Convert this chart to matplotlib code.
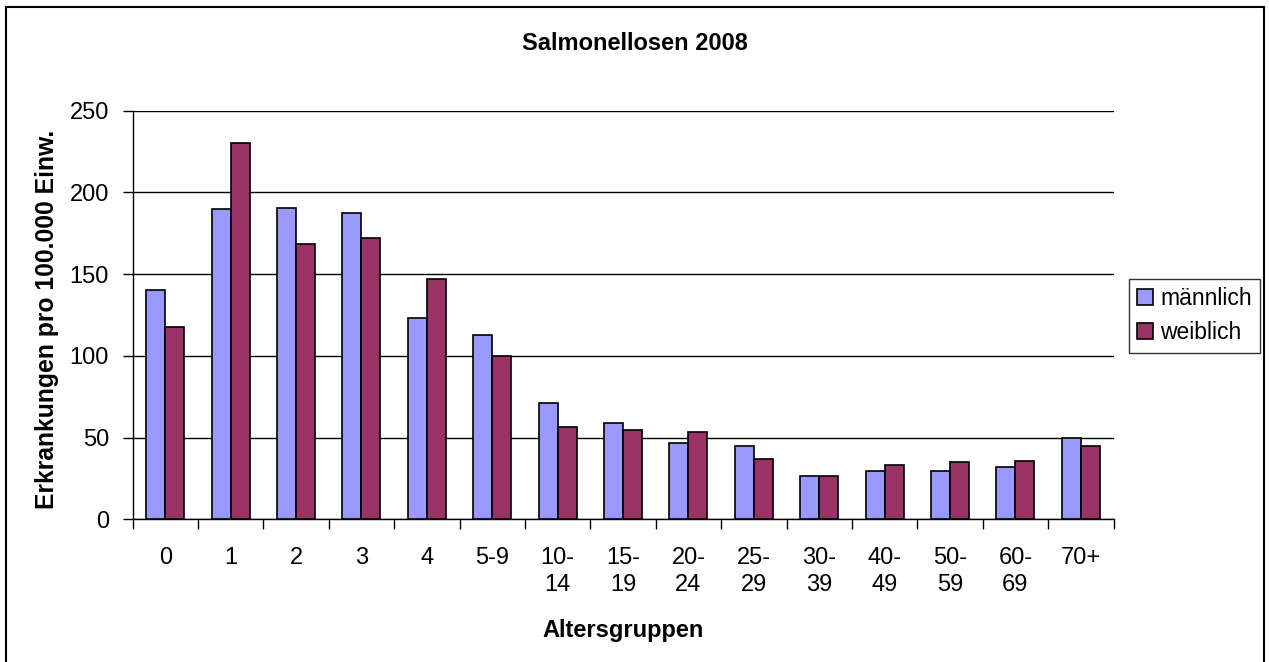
import numpy as np
import matplotlib
matplotlib.use('Agg')
import matplotlib.pyplot as plt
from matplotlib.lines import Line2D

plt.rcParams['font.family'] = ['Liberation Sans', 'DejaVu Sans']

# Altersgruppen und Inzidenzen (pro 100.000 Einw.)
gruppen = ['0', '1', '2', '3', '4', '5-9', '10-\n14', '15-\n19', '20-\n24', '25-\n29',
           '30-\n39', '40-\n49', '50-\n59', '60-\n69', '70+']
maennlich = [140.6, 189.8, 190.6, 187.7, 122.9, 112.7, 71.4, 59.2, 46.9, 45.1,
             26.7, 29.4, 29.4, 32.2, 49.8]
weiblich = [117.4, 230.3, 168.4, 172.2, 147.0, 99.9, 56.3, 54.5, 53.7, 36.9,
            26.7, 33.1, 34.9, 35.9, 45.1]

W, H = 1269, 662
fig = plt.figure(figsize=(W/100, H/100), dpi=100)
ax = fig.add_axes([132.5/W, 1-519.3/H, 981/W, (519.3-110.7)/H])

x = np.arange(len(gruppen))
bw = 0.29
ax.bar(x - bw/2, maennlich, bw, color='#9999FF', edgecolor='black', linewidth=1.2, label='männlich', zorder=3)
ax.bar(x + bw/2, weiblich, bw, color='#993366', edgecolor='black', linewidth=1.2, label='weiblich', zorder=3)

ax.set_xlim(-0.5, len(gruppen) - 0.5)
ax.set_ylim(0, 250)
ax.set_yticks(np.arange(0, 251, 50))
ax.yaxis.grid(True, color='black', linewidth=1)
ax.set_axisbelow(True)
for s in ['top', 'right']:
    ax.spines[s].set_visible(False)
ax.spines['left'].set_linewidth(1)
ax.spines['bottom'].set_linewidth(1)

ax.set_xticks(x)
ax.set_xticklabels(gruppen, fontsize=17, linespacing=1.3, va='top')
ax.set_xticks(np.arange(-0.5, len(gruppen)), minor=True)
ax.tick_params(axis='x', which='major', length=0, pad=20)
ax.tick_params(axis='x', which='minor', length=7, width=1, direction='out')
ax.tick_params(axis='y', length=7, width=1, direction='out', pad=10, labelsize=17)

fig.text(634.5/W, 1-43/H, 'Salmonellosen 2008', ha='center', va='center', fontsize=17, fontweight='bold')
fig.text(47/W, 1-319/H, 'Erkrankungen pro 100.000 Einw.', rotation=90, ha='center', va='center',
         fontsize=17.8, fontweight='bold')
fig.text(623/W, 1-630/H, 'Altersgruppen', ha='center', va='center', fontsize=17, fontweight='bold')

leg = fig.legend(loc='upper left', bbox_to_anchor=(1129/W, 1-279/H), fontsize=16.5,
                 frameon=True, fancybox=False, handlelength=0.7, handleheight=0.7,
                 handletextpad=0.3, labelspacing=0.5, borderpad=0.35, borderaxespad=0)
leg.get_frame().set_edgecolor('black')
leg.get_frame().set_linewidth(1)

# Rahmen um das Diagramm
fig.add_artist(Line2D([6.5/W, 6.5/W], [0, 1-6.5/H], color='black', linewidth=1.5))
fig.add_artist(Line2D([6.5/W, 1264/W], [1-6.5/H, 1-6.5/H], color='black', linewidth=1.5))
fig.add_artist(Line2D([1264/W, 1264/W], [0, 1-6.5/H], color='black', linewidth=1.5))

fig.savefig('out.png', dpi=100)
